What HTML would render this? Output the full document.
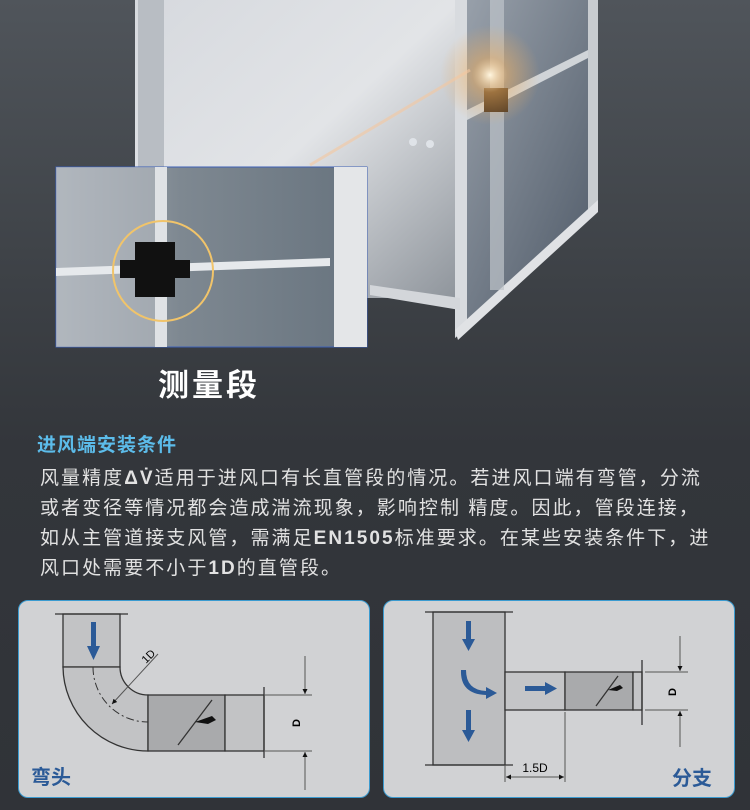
<!DOCTYPE html>
<html><head><meta charset="utf-8"><style>
body{margin:0;width:750px;height:810px;overflow:hidden;background:linear-gradient(180deg,#50555b 0%,#3d4146 35%,#33363b 55%,#303338 100%);font-family:"Liberation Sans","Noto Sans CJK SC",sans-serif;position:relative}
.abs{position:absolute}
.h{left:37px;top:430px;color:#5cbcea;font-size:19px;font-weight:bold;letter-spacing:1px}
.p{left:40px;top:464px;color:#e2e2e2;font-size:19px;line-height:30px;letter-spacing:2.05px;white-space:nowrap}
.cap{left:158px;top:360px;color:#fff;font-size:31px;font-weight:bold;letter-spacing:3px}
.panel{background:#d1d2d4;border:1.5px solid #3b9bd0;border-radius:10px;top:600px;height:196px}
</style></head><body>
<svg class="abs" style="left:0;top:0" width="750" height="350">
<defs>
<linearGradient id="front" x1="0" y1="0" x2="1" y2="1"><stop offset="0" stop-color="#d6d9de"/><stop offset=".5" stop-color="#e2e4e7"/><stop offset="1" stop-color="#8e949b"/></linearGradient>
<linearGradient id="side" x1="0" y1="0" x2="1" y2="1"><stop offset="0" stop-color="#9ba3ad"/><stop offset="1" stop-color="#4a5563"/></linearGradient>
<linearGradient id="ins" x1="0" y1="0" x2="1" y2="0"><stop offset="0" stop-color="#aab1b8"/><stop offset=".4" stop-color="#7e8891"/><stop offset="1" stop-color="#67737e"/></linearGradient>
<radialGradient id="glow" cx=".5" cy=".5" r=".5"><stop offset="0" stop-color="#fff6e0"/><stop offset=".35" stop-color="#f0b060" stop-opacity=".5"/><stop offset="1" stop-color="#f0b060" stop-opacity="0"/></radialGradient>
</defs>
<polygon points="135,0 460,0 460,298 135,298" fill="url(#front)"/>
<rect x="138" y="0" width="26" height="298" fill="#b8bdc3"/>
<polygon points="455,0 598,0 598,210 455,338" fill="url(#side)"/>
<polygon points="455,0 467,0 467,328 455,338" fill="#d8dbdf"/>
<polygon points="588,0 598,0 598,210 588,218" fill="#c8ccd0"/>
<polygon points="455,330 598,200 598,212 458,340" fill="#e0e2e5"/>
<rect x="490" y="0" width="14" height="290" fill="#bfc4ca" opacity=".7"/>
<polygon points="467,110 588,50 588,58 467,120" fill="#d0d4d8"/>
<rect x="484" y="88" width="24" height="24" fill="#4a3520"/>
<circle cx="490" cy="75" r="50" fill="url(#glow)"/>
<line x1="310" y1="165" x2="470" y2="70" stroke="#f5c8a0" stroke-width="3" opacity=".6"/>
<polygon points="370,285 460,298 460,310 370,295" fill="#d3d6da"/>
<circle cx="413" cy="142" r="4" fill="#dfe3e8"/><circle cx="430" cy="144" r="4" fill="#dfe3e8"/>
<rect x="56" y="167" width="311" height="180" fill="url(#ins)" stroke="#3c5fb5" stroke-width="1"/>
<rect x="56" y="167" width="105" height="180" fill="#b5bbc1" opacity=".6"/>
<rect x="155" y="167" width="12" height="180" fill="#dfe2e5"/>
<rect x="334" y="167" width="33" height="180" fill="#e4e6e8"/>
<polygon points="56,268 330,258 330,266 56,276" fill="#e6e9ec"/>
<rect x="135" y="242" width="40" height="55" fill="#111"/>
<rect x="120" y="260" width="70" height="18" fill="#111"/>
<circle cx="163" cy="271" r="50" fill="none" stroke="#f1c46a" stroke-width="2"/>
</svg>
<div class="abs cap">测量段</div>
<div class="abs h">进风端安装条件</div>
<div class="abs p">风量精度<b>ΔV̇</b>适用于进风口有长直管段的情况。若进风口端有弯管，分流<br>或者变径等情况都会造成湍流现象，影响控制 精度。因此，管段连接，<br>如从主管道接支风管，需满足<b>EN1505</b>标准要求。在某些安装条件下，进<br>风口处需要不小于<b>1D</b>的直管段。</div>
<div class="abs panel" style="left:18px;width:350px"></div>
<div class="abs panel" style="left:383px;width:350px"></div>
<svg class="abs" style="left:0;top:0" width="750" height="810">
<defs><marker id="a" viewBox="0 0 10 10" refX="10" refY="5" markerWidth="5" markerHeight="7" orient="auto"><path d="M0,0L10,5L0,10z" fill="#111"/></marker></defs>
<g stroke="#333" stroke-width="1.3">
<rect x="63" y="614" width="57" height="53" fill="#c2c3c5"/>
<path d="M63,667 A85,85 0 0 0 148,751 L148,695 A28,28 0 0 1 120,667 Z" fill="#c2c3c5"/>
<rect x="148" y="695" width="77" height="56" fill="#a9aaac"/>
<rect x="225" y="695" width="39" height="56" fill="#c2c3c5"/>
<line x1="55" y1="614" x2="128" y2="614"/>
<line x1="264" y1="687" x2="264" y2="758"/>
<line x1="178" y1="745" x2="212" y2="700"/>
</g>
<path d="M93,667 A55,55 0 0 0 148,722" fill="none" stroke="#333" stroke-dasharray="8,3,2,3"/>
<path d="M195,722 l17,-6 4,4 -8,4z" fill="#111"/>
<g stroke="#555" stroke-width="1"><line x1="264" y1="695" x2="312" y2="695"/><line x1="264" y1="751" x2="312" y2="751"/>
<line x1="305" y1="656" x2="305" y2="694" marker-end="url(#a)"/><line x1="305" y1="790" x2="305" y2="752" marker-end="url(#a)"/>
<line x1="158" y1="654" x2="112" y2="704" marker-end="url(#a)"/></g>
<text x="300" y="723" font-size="11" font-family="Liberation Sans" transform="rotate(-90 300 723)" text-anchor="middle" font-weight="bold">D</text>
<text x="146" y="664" font-size="11" font-family="Liberation Sans" transform="rotate(-45 146 664)">1D</text>
<path d="M91,622h5v24h4l-6.5,14l-6.5,-14h4z" fill="#2b5a97"/>
<text x="31" y="784" font-size="20" font-weight="bold" fill="#2b5a97" font-family="Liberation Sans,Noto Sans CJK SC,sans-serif">弯头</text>

<g stroke="#333" stroke-width="1.3">
<rect x="433" y="612" width="72" height="153" fill="#bdbec0"/>
<rect x="505" y="672" width="60" height="38" fill="#c4c5c7"/>
<rect x="565" y="672" width="68" height="38" fill="#a9aaac"/>
<rect x="633" y="672" width="9" height="38" fill="#c4c5c7"/>
<line x1="642" y1="660" x2="642" y2="725"/>
<line x1="425" y1="612" x2="513" y2="612"/><line x1="425" y1="765" x2="513" y2="765"/>
<line x1="596" y1="706" x2="618" y2="676"/>
</g>
<path d="M608,690 l12,-5 3,3 -6,3z" fill="#111"/>
<g stroke="#555" stroke-width="1"><line x1="645" y1="672" x2="688" y2="672"/><line x1="645" y1="710" x2="688" y2="710"/>
<line x1="680" y1="636" x2="680" y2="671" marker-end="url(#a)"/><line x1="680" y1="747" x2="680" y2="711" marker-end="url(#a)"/>
<line x1="505" y1="765" x2="505" y2="782"/><line x1="565" y1="712" x2="565" y2="782"/>
<line x1="520" y1="777" x2="506" y2="777" marker-end="url(#a)"/><line x1="550" y1="777" x2="564" y2="777" marker-end="url(#a)"/><line x1="515" y1="777" x2="555" y2="777"/></g>
<text x="535" y="772" font-size="12" text-anchor="middle" font-family="Liberation Sans">1.5D</text>
<text x="676" y="692" font-size="11" font-weight="bold" font-family="Liberation Sans" transform="rotate(-90 676 692)" text-anchor="middle">D</text>
<g fill="#2b5a97">
<path d="M466,621h5v18h4l-6.5,12l-6.5,-12h4z"/>
<path d="M466,710h5v20h4l-6.5,12l-6.5,-12h4z"/>
<path d="M525,686h20v-4l12,6.5l-12,6.5v-4h-20z"/>
<path d="M466,670 q0,20 20,21 v-4 l11,6 -11,6 v-4 q-26,-1 -25,-25z"/>
</g>
<text x="672" y="785" font-size="20" font-weight="bold" fill="#2b5a97" font-family="Liberation Sans,Noto Sans CJK SC,sans-serif">分支</text>
</svg>
</body></html>
